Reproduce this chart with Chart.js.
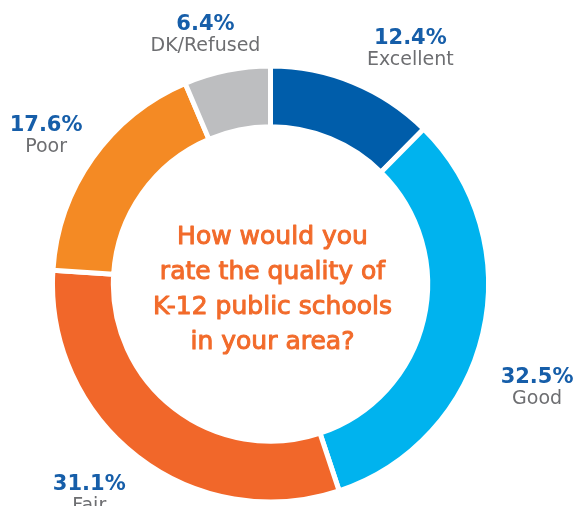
<!DOCTYPE html>
<html>
<head>
<meta charset="utf-8">
<script src="https://cdn.jsdelivr.net/npm/chart.js@4/dist/chart.umd.min.js"></script>
<style>
  html, body { margin: 0; padding: 0; background: #ffffff; }
  #wrap { width: 583px; height: 506px; position: relative; }
  canvas { display: block; }
</style>
</head>
<body>
<div id="wrap"><canvas id="c" width="583" height="506"></canvas></div>
<script>
// ---- data ----
const categories = ["Excellent", "Good", "Fair", "Poor", "DK/Refused"];
const values = [12.4, 32.5, 31.1, 17.6, 6.4];
const valueLabels = ["12.4%", "32.5%", "31.1%", "17.6%", "6.4%"];
const questionLines = ["How would you", "rate the quality of", "K-12 public schools", "in your area?"];

// ---- styles ----
const sliceColors = ["#005DAA", "#00B3EE", "#F1672A", "#F48A24", "#BDBEC0"];

// label placement relative to each slice's outer mid-point (dx, dy to percent baseline)
const labelOffsets = [[58, -40.6], [56.7, 49.9], [-49.7, 35], [-48.5, -28.8], [-22, -43.1]];

const outsideLabels = {
  id: 'outsideLabels',
  afterDraw(chart) {
    const ctx = chart.ctx;
    const meta = chart.getDatasetMeta(0);
    meta.data.forEach((arc, i) => {
      const p = arc.getProps(['x', 'y', 'startAngle', 'endAngle', 'outerRadius'], true);
      const mid = (p.startAngle + p.endAngle) / 2;
      const r = p.outerRadius - 2.5;
      const ax = p.x + Math.cos(mid) * r;
      const ay = p.y + Math.sin(mid) * r;
      const x = ax + labelOffsets[i][0];
      const y = ay + labelOffsets[i][1];
      ctx.save();
      ctx.textAlign = 'center';
      ctx.textBaseline = 'alphabetic';
      ctx.fillStyle = '#165EA9';
      ctx.font = 'bold 21px "DejaVu Sans"';
      ctx.fillText(valueLabels[i], x, y);
      ctx.fillStyle = '#6D6E71';
      ctx.font = '19px "DejaVu Sans"';
      ctx.fillText(categories[i], x, y + 21);
      ctx.restore();
    });
  }
};

const centerText = {
  id: 'centerText',
  afterDraw(chart) {
    const ctx = chart.ctx;
    const arc = chart.getDatasetMeta(0).data[0];
    const cx = arc.x + 2;
    const cy = arc.y;
    ctx.save();
    ctx.textAlign = 'center';
    ctx.textBaseline = 'alphabetic';
    ctx.fillStyle = '#F26B2B';
    ctx.strokeStyle = '#F26B2B';
    ctx.lineWidth = 1.0;
    ctx.lineJoin = 'round';
    ctx.font = '25px "DejaVu Sans"';
    questionLines.forEach((line, i) => {
      const y = cy + (i - 1.5) * 35 + 12;
      ctx.fillText(line, cx, y);
      ctx.strokeText(line, cx, y);
    });
    ctx.restore();
  }
};

new Chart(document.getElementById('c'), {
  type: 'doughnut',
  data: {
    labels: categories,
    datasets: [{
      data: values,
      backgroundColor: sliceColors,
      borderColor: '#ffffff',
      borderWidth: 5,
      hoverOffset: 0
    }]
  },
  options: {
    responsive: false,
    animation: false,
    devicePixelRatio: 1,
    cutout: '72.1%',
    layout: { padding: { left: 50, right: 92, top: 63.5, bottom: 1.5 } },
    plugins: {
      legend: { display: false },
      tooltip: { enabled: false }
    }
  },
  plugins: [outsideLabels, centerText]
});
</script>
</body>
</html>
